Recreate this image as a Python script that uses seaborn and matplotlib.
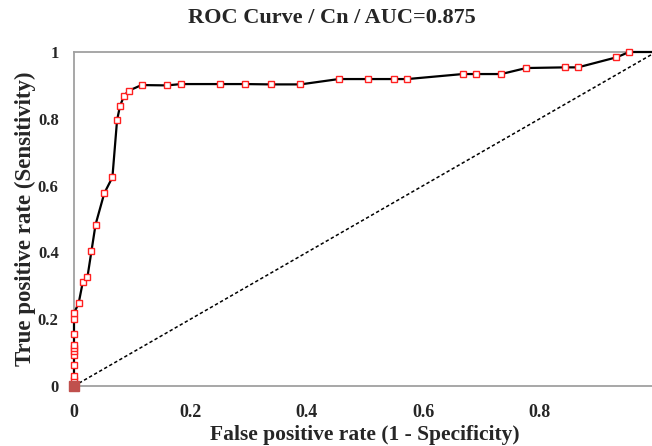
"""ROC curve for the Cn factor, redrawn in seaborn."""

import matplotlib

matplotlib.use("Agg")

import matplotlib.pyplot as plt
import pandas as pd
import seaborn as sns

# values
fpr = [0.0, 0.0, 0.0, 0.0, 0.0, 0.0, 0.0, 0.0, 0.0, 0.0, 0.0,
       0.008, 0.015, 0.023, 0.030, 0.037, 0.052, 0.066, 0.074, 0.079,
       0.086, 0.094, 0.116, 0.160, 0.184, 0.250, 0.294, 0.338, 0.389,
       0.455, 0.506, 0.550, 0.573, 0.668, 0.690, 0.734, 0.777, 0.844,
       0.866, 0.932, 0.954, 1.0]
tpr = [0.0, 0.018, 0.030, 0.062, 0.093, 0.105, 0.115, 0.124, 0.155, 0.201, 0.218,
       0.248, 0.310, 0.325, 0.404, 0.483, 0.577, 0.625, 0.796, 0.838,
       0.869, 0.884, 0.901, 0.900, 0.904, 0.904, 0.904, 0.903, 0.903,
       0.919, 0.919, 0.919, 0.919, 0.934, 0.934, 0.934, 0.952, 0.954,
       0.954, 0.984, 1.0, 1.0]
chance = [0.0, 1.0]
ticks = [0, 0.2, 0.4, 0.6, 0.8, 1]
tick_labels = ["0", "0.2", "0.4", "0.6", "0.8", "1"]

title = "ROC Curve / Cn / AUC=0.875"
xlabel = "False positive rate (1 - Specificity)"
ylabel = "True positive rate (Sensitivity)"

sns.set_style("white")
plt.rcParams["font.family"] = ["Liberation Serif", "DejaVu Serif"]
plt.rcParams["font.weight"] = "bold"

roc = pd.DataFrame({"fpr": fpr, "tpr": tpr})

fig = plt.figure(figsize=(6.52, 4.46), dpi=100)
ax = fig.add_axes([74 / 652, 60 / 446, 582 / 652, 334 / 446])

ax.plot(chance, chance, color="black", linestyle=(0, (2.2, 1.6)), linewidth=1.1, zorder=2)
sns.lineplot(data=roc, x="fpr", y="tpr", sort=False, estimator=None, ax=ax,
             color="black", linewidth=1.6, marker="s", markersize=4.4,
             markerfacecolor="white", markeredgecolor="#ff2020", markeredgewidth=1.0,
             clip_on=False, zorder=3)
ax.plot(fpr[:1], tpr[:1], marker="s", markersize=6.5, color="#c0504d",
        linestyle="none", clip_on=False, zorder=4)

ax.set_xlim(0, 1)
ax.set_ylim(0, 1)
ax.set_xticks(ticks)
ax.set_xticklabels(tick_labels, fontsize=13, fontweight="bold")
ax.set_yticks(ticks)
ax.set_yticklabels(tick_labels, fontsize=12, fontweight="bold")
ax.tick_params(axis="both", direction="inout", length=8, width=1.0, color="#a0a0a0")
ax.tick_params(axis="x", pad=9)
ax.tick_params(axis="y", pad=7)
for side in ["left", "bottom", "top", "right"]:
    ax.spines[side].set_color("#a0a0a0")
    ax.spines[side].set_linewidth(1.3)

ax.set_xlabel(xlabel, fontsize=15.5, fontweight="bold", labelpad=3)
ax.set_ylabel(ylabel, fontsize=16.5, fontweight="bold", labelpad=1)
fig.text(332 / 652, 1 - 18 / 446, title, fontsize=16, fontweight="bold",
         ha="center", va="center")

fig.savefig("out.png", dpi=100)
